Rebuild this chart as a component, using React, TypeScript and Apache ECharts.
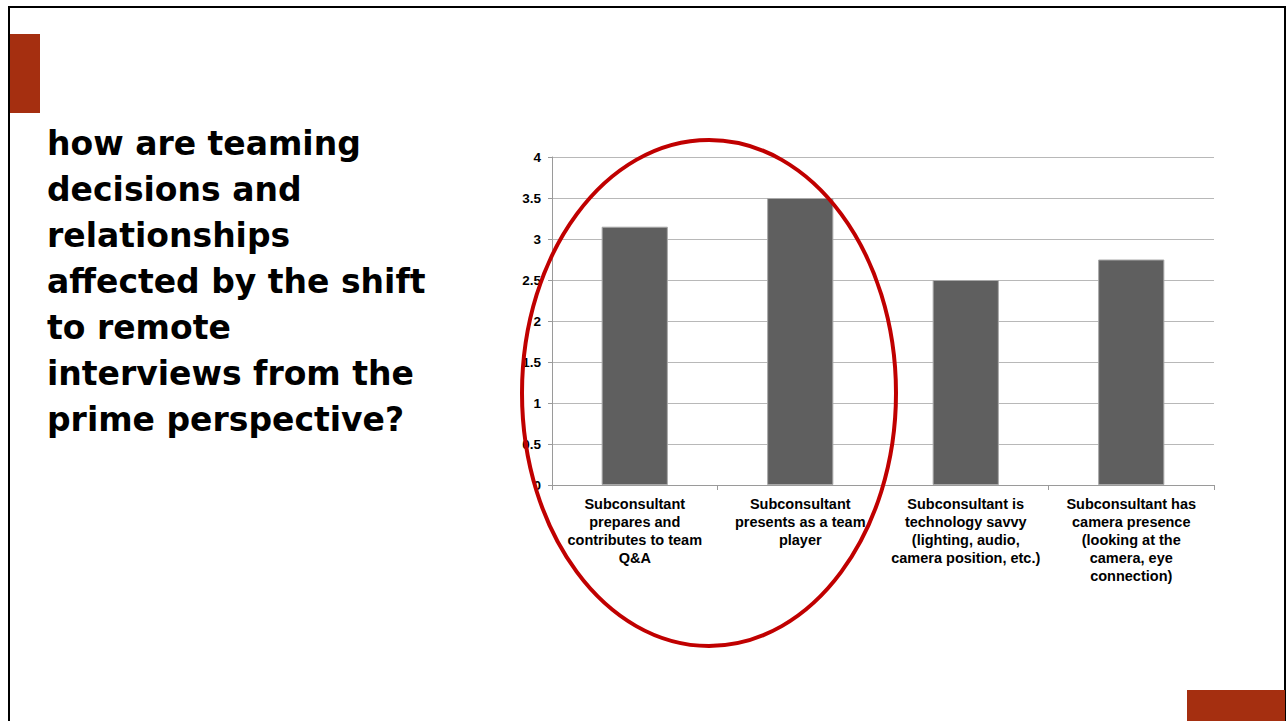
import React, { useEffect, useRef } from "react";
import * as echarts from "echarts";

const categories = [
  "Subconsultant\nprepares and\ncontributes to team\nQ&A",
  "Subconsultant\npresents as a team\nplayer",
  "Subconsultant is\ntechnology savvy\n(lighting, audio,\ncamera position, etc.)",
  "Subconsultant has\ncamera presence\n(looking at the\ncamera, eye\nconnection)",
];
const values = [3.15, 3.5, 2.5, 2.75];
const titleLines = [
  "how are teaming",
  "decisions and",
  "relationships",
  "affected by the shift",
  "to remote",
  "interviews from the",
  "prime perspective?",
];

export default function App() {
  const ref = useRef<HTMLDivElement>(null);
  useEffect(() => {
    if (!ref.current) return;
    const chart = echarts.init(ref.current, undefined, { renderer: "svg" });
    chart.setOption({
      animation: false,
      backgroundColor: "#ffffff",
      grid: { left: 552, right: 74, top: 157, bottom: 236, containLabel: false },
      xAxis: {
        type: "category",
        data: categories,
        axisLine: { show: true, lineStyle: { color: "#9a9a9a", width: 1 } },
        axisTick: { show: true, alignWithLabel: false, length: 5, lineStyle: { color: "#9a9a9a" } },
        axisLabel: {
          interval: 0,
          margin: 10,
          color: "#000",
          fontFamily: "Liberation Sans, Arial, sans-serif",
          fontWeight: "bold",
          fontSize: 14.5,
          lineHeight: 18,
          verticalAlign: "top",
        },
        splitLine: { show: false },
      },
      yAxis: {
        type: "value",
        min: 0,
        max: 4,
        interval: 0.5,
        axisLine: { show: true, lineStyle: { color: "#9a9a9a", width: 1 } },
        axisTick: { show: true, length: 4, lineStyle: { color: "#9a9a9a" } },
        axisLabel: {
          margin: 11,
          color: "#000",
          fontFamily: "Liberation Sans, Arial, sans-serif",
          fontWeight: "bold",
          fontSize: 13.5,
        },
        splitLine: { show: true, lineStyle: { color: "#b8b8b8", width: 1 } },
      },
      series: [
        {
          type: "bar",
          data: values,
          barWidth: "40%",
          itemStyle: { color: "#5f5f5f", borderColor: "#a8a8a8", borderWidth: 1 },
          z: 2,
        },
      ],
      graphic: [
        {
          type: "rect",
          shape: { x: 9, y: 7, width: 1276, height: 730 },
          style: { fill: "none", stroke: "#000", lineWidth: 2 },
          z: 100,
        },
        {
          type: "rect",
          shape: { x: 10, y: 34, width: 30, height: 79 },
          style: { fill: "#a52f10" },
          z: 100,
        },
        {
          type: "rect",
          shape: { x: 1187, y: 690, width: 98, height: 40 },
          style: { fill: "#a52f10" },
          z: 100,
        },
        {
          type: "text",
          x: 47,
          y: 120,
          style: {
            text: titleLines.join("\n"),
            fill: "#000",
            fontFamily: "DejaVu Sans, sans-serif",
            fontWeight: "bold",
            fontSize: 33,
            lineHeight: 46,
            verticalAlign: "top",
            align: "left",
          },
          z: 100,
        },
        {
          type: "ellipse",
          shape: { cx: 709, cy: 393, rx: 187, ry: 253 },
          style: { fill: "none", stroke: "#c00000", lineWidth: 4 },
          z: 100,
        },
      ],
    });
    return () => chart.dispose();
  }, []);
  return (
    <div
      ref={ref}
      style={{ position: "fixed", left: 0, top: 0, width: 1288, height: 721 }}
    />
  );
}
